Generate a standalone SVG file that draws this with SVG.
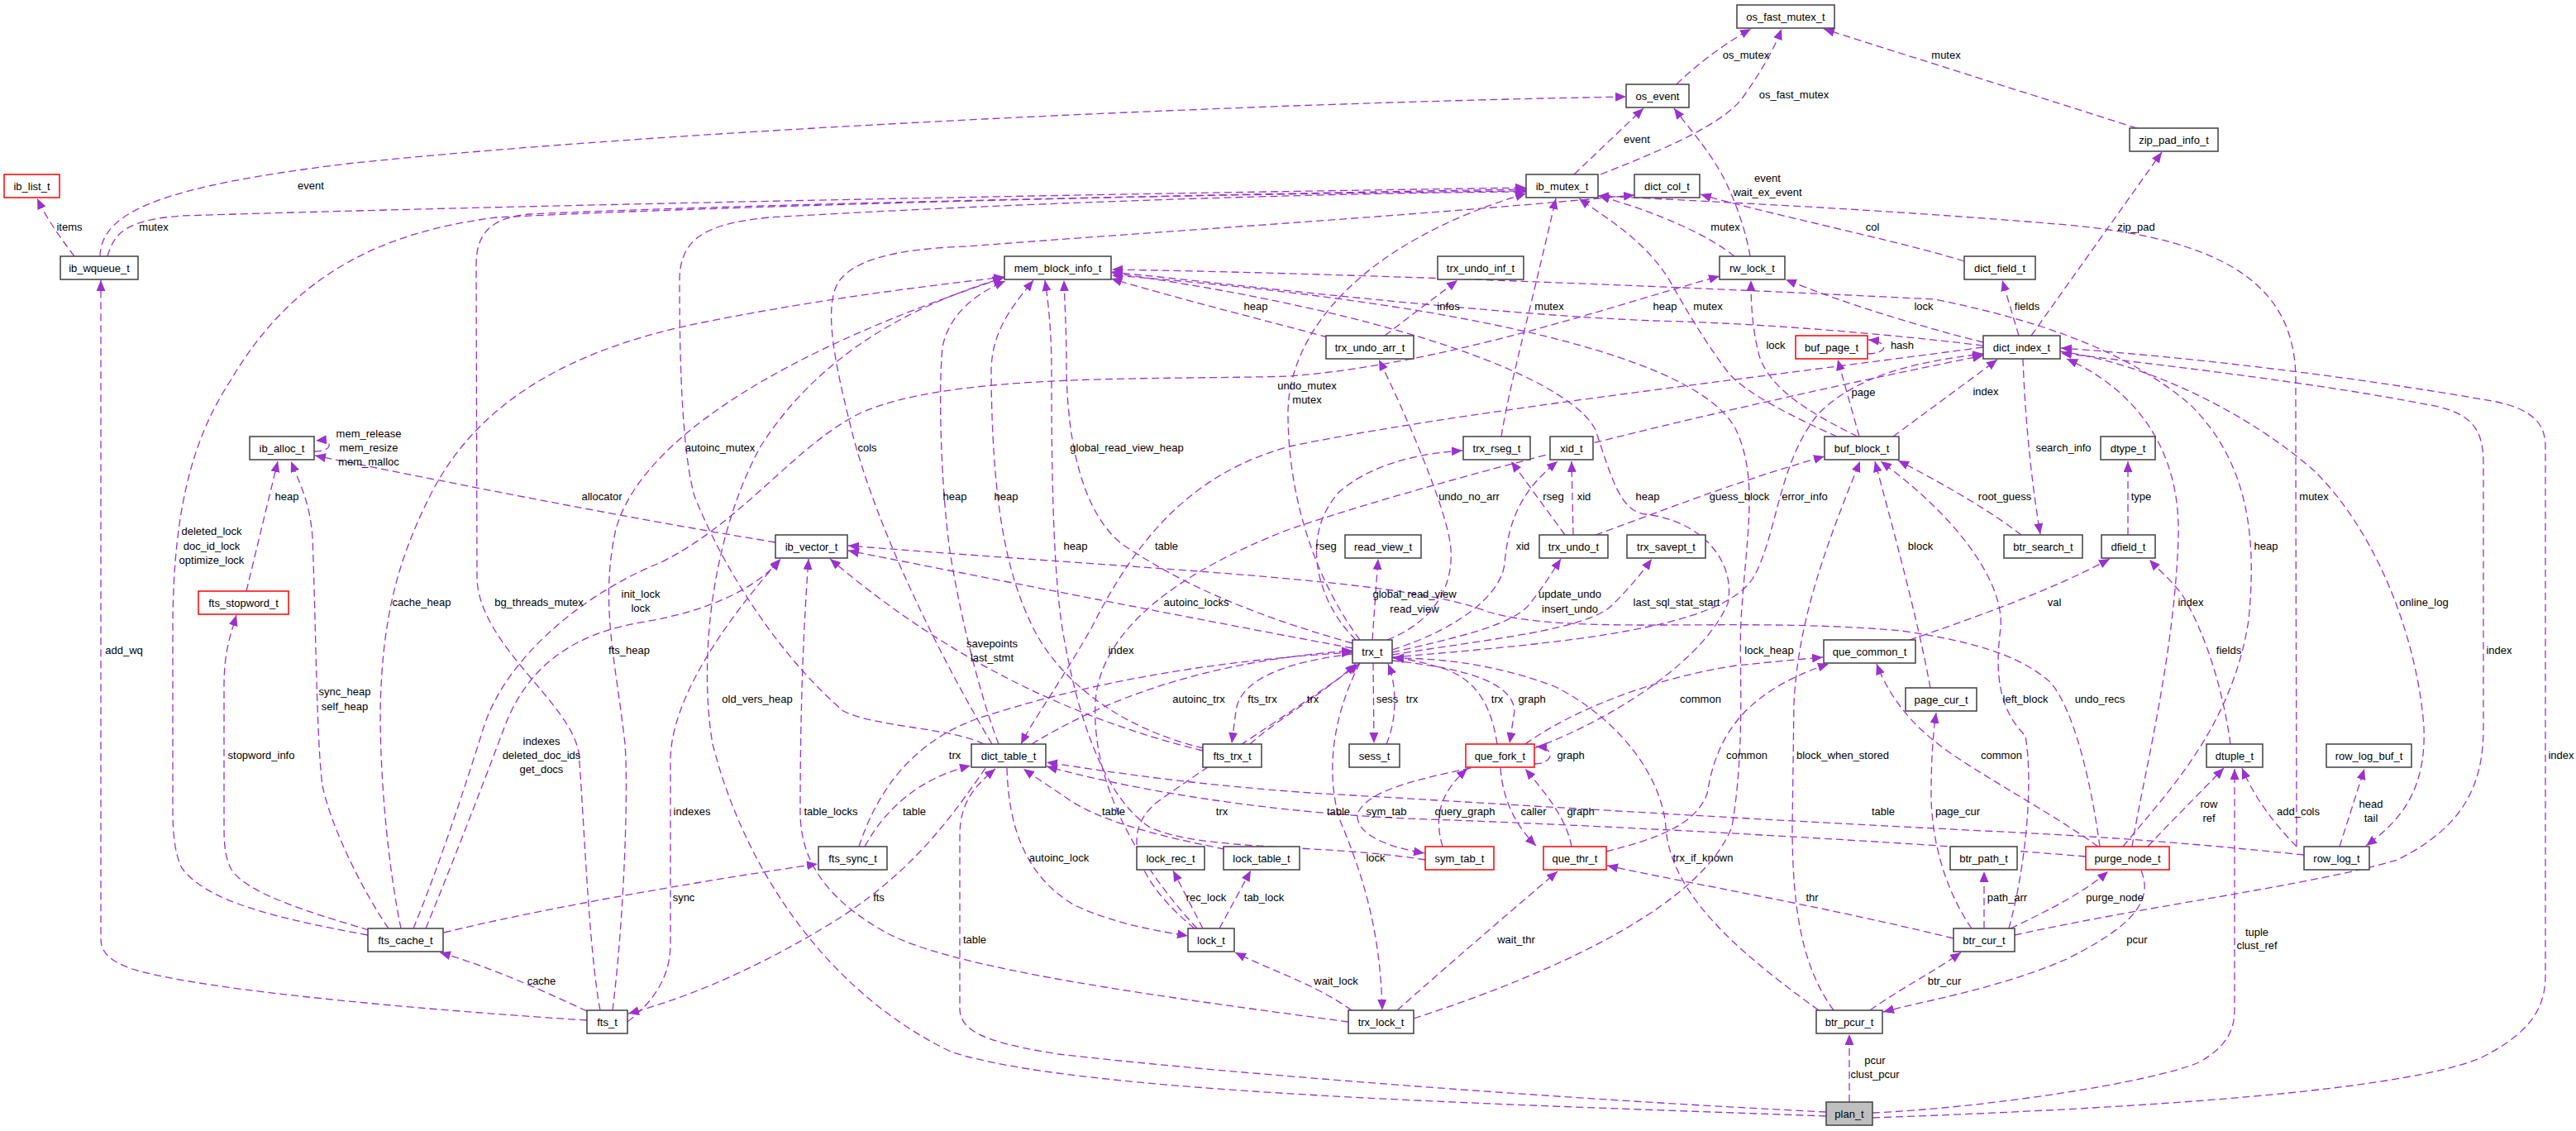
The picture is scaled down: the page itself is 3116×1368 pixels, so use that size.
<svg xmlns="http://www.w3.org/2000/svg" width="3116" height="1368" viewBox="0 0 3116 1368">
<defs>
<marker id="a" markerUnits="userSpaceOnUse" markerWidth="14" markerHeight="12" refX="13" refY="5.5" orient="auto"><path d="M0,0 L13,5.5 L0,11 z" fill="#9a32cd" stroke="none"/></marker>
</defs>
<style>
text{font-family:"Liberation Sans",Arial,Helvetica,sans-serif;font-size:13px;fill:#000}
.n rect{fill:#fff;stroke:#404040;stroke-width:1.5}
.n.r rect{stroke:#ff0000}
.n.g rect{fill:#bfbfbf}
.n text{text-anchor:middle}
#edges path{fill:none;stroke:#9a32cd;stroke-width:1.3;stroke-dasharray:9,5;marker-end:url(#a)}
#edges text{text-anchor:middle}
</style>
<rect width="3116" height="1368" fill="#fff"/>
<g id="edges">
<path d="M90,310 C78,294 58,268 45,240"/>
<path d="M121,310 C122,255 200,225 420,198 C800,158 1500,125 1967,117"/>
<path d="M130,310 C138,282 152,266 220,261 C700,246 1500,232 1846,227"/>
<path d="M710,1234 C550,1224 250,1200 160,1172 C130,1162 122,1150 122,1135 L122,339"/>
<path d="M2028,102 C2045,85 2080,56 2118,35"/>
<path d="M1936,211 C2010,182 2085,150 2108,118 C2128,90 2145,62 2155,35"/>
<path d="M1904,211 L1988,131"/>
<path d="M2585,155 L2206,35"/>
<path d="M2117,310 C2112,280 2100,245 2085,215 C2065,178 2045,158 2025,131"/>
<path d="M2098,310 C2070,287 2010,258 1934,237"/>
<path d="M2457,406 L2615,184"/>
<path d="M2376,316 C2300,292 2130,257 2057,235"/>
<path d="M2442,406 L2422,339"/>
<path d="M2399,414 C2330,397 2230,367 2160,338"/>
<path d="M2247,528 C2190,500 2140,470 2128,430 C2120,400 2118,370 2118,339"/>
<path d="M2222,528 C2170,505 2110,475 2090,450 C2060,410 2040,375 2020,340 C1990,290 1940,262 1910,240"/>
<path d="M2249,528 L2223,435"/>
<path d="M2259,428 C2282,428 2288,414 2260,411"/>
<path d="M2290,528 L2416,435"/>
<path d="M2445,647 C2410,620 2360,590 2296,557"/>
<path d="M2447,434 C2450,520 2460,600 2468,646"/>
<path d="M2574,647 L2574,558"/>
<path d="M1675,406 L1763,339"/>
<path d="M1606,408 C1540,390 1420,360 1344,337"/>
<path d="M1816,528 C1825,470 1850,380 1882,240"/>
<path d="M1893,647 L1828,558"/>
<path d="M1903,647 L1901,558"/>
<path d="M1930,647 C2000,622 2100,582 2207,552"/>
<path d="M1640,774 C1595,730 1570,650 1620,595 C1660,560 1720,548 1769,545"/>
<path d="M1684,786 C1760,762 1815,722 1820,682 C1825,622 1845,590 1884,558"/>
<path d="M1660,774 L1667,676"/>
<path d="M1684,789 C1760,772 1830,756 1850,731 C1865,712 1876,695 1888,676"/>
<path d="M1684,792 C1800,773 1920,762 1950,732 C1966,716 1981,700 1998,676"/>
<path d="M1678,774 C1740,750 1763,700 1753,650 C1743,600 1700,500 1668,435"/>
<path d="M1645,774 C1590,700 1558,600 1558,500 C1558,400 1650,292 1846,234"/>
<path d="M1636,778 C1500,740 1420,700 1360,660 C1305,620 1290,520 1290,440 C1290,400 1288,370 1287,339"/>
<path d="M1636,784 C1400,740 1200,700 1026,666"/>
<path d="M2540,1024 C2530,950 2510,860 2480,825 C2440,790 2380,775 2300,763 C2100,745 1900,770 1800,740 C1700,700 1400,690 1026,660"/>
<path d="M1684,795 C1900,777 2080,760 2120,700 C2150,650 2150,560 2200,500 C2250,450 2330,436 2399,428"/>
<path d="M1661,802 L1662,899"/>
<path d="M1677,900 C1690,870 1690,830 1679,803"/>
<path d="M1811,900 C1805,860 1790,825 1750,810 C1720,800 1700,797 1685,795"/>
<path d="M1684,799 C1760,807 1830,822 1832,860 L1826,899"/>
<path d="M1856,924 C1880,924 1882,904 1858,903"/>
<path d="M1445,1123 C1380,1070 1350,1010 1400,970 C1470,920 1580,850 1644,803"/>
<path d="M1636,791 C1560,800 1500,820 1495,860 L1490,899"/>
<path d="M1512,900 C1545,870 1600,840 1640,803"/>
<path d="M1248,900 C1330,850 1450,800 1636,787"/>
<path d="M1039,1024 C1060,960 1100,900 1180,870 C1300,830 1450,800 1636,789"/>
<path d="M1046,1024 C1070,980 1110,942 1174,926"/>
<path d="M537,1128 C650,1100 850,1065 989,1045"/>
<path d="M1192,929 C1150,990 1100,1060 1000,1120 C900,1180 820,1210 760,1226"/>
<path d="M710,1223 C660,1200 600,1172 532,1152"/>
<path d="M726,1222 C712,1150 706,980 700,910 C690,850 580,780 577,700 L576,320 C576,277 600,263 640,259 C900,247 1500,234 1846,231"/>
<path d="M759,1236 C790,1212 811,1182 811,1142 L811,920 C811,850 870,760 944,676"/>
<path d="M741,1222 C756,1100 760,950 756,900 C745,800 725,730 745,640 C770,550 900,440 1214,336"/>
<path d="M1631,1236 C1400,1205 1150,1172 1070,1127 C990,1082 968,1032 968,982 C968,850 972,760 978,676"/>
<path d="M1455,908 C1300,870 1150,800 1004,676"/>
<path d="M515,1123 C545,1050 580,960 610,880 C640,800 700,765 780,752 C850,740 910,716 944,677"/>
<path d="M500,1123 C530,1050 560,960 585,880 C610,800 700,720 800,680 C900,630 960,540 1040,500 C1150,450 1400,460 1560,455 C1750,440 1950,370 2080,334"/>
<path d="M445,1131 C330,1110 250,1090 220,1050 C210,1030 209,1000 209,980 L209,760 C209,600 240,520 279,460 C350,340 450,282 600,263 C900,248 1500,234 1846,229"/>
<path d="M446,1125 C380,1105 300,1082 280,1052 C272,1037 271,1020 271,1000 L271,830 C271,790 278,770 286,744"/>
<path d="M470,1123 C440,1080 400,1000 390,950 C383,900 382,750 378,650 C375,610 365,590 352,558"/>
<path d="M485,1123 C470,1050 460,950 460,860 C462,750 480,680 520,600 C580,480 700,420 850,390 C1000,360 1130,345 1215,335"/>
<path d="M298,715 L336,558"/>
<path d="M380,546 C404,546 404,531 382,533"/>
<path d="M938,656 C750,625 550,585 381,551"/>
<path d="M1190,900 C1150,880 1060,880 1020,860 C950,800 880,700 840,600 C826,550 822,450 822,340 C822,290 850,271 930,263 C1200,247 1600,233 1846,232"/>
<path d="M1200,900 C1140,800 1060,640 1030,520 C1010,440 995,370 1015,340 C1040,305 1120,300 1170,298 C1400,280 1700,262 1977,236"/>
<path d="M1208,900 C1185,840 1160,740 1148,660 C1138,580 1135,470 1140,420 C1148,380 1180,355 1216,340"/>
<path d="M1456,905 C1350,880 1280,820 1250,760 C1215,690 1200,600 1199,450 C1199,400 1225,370 1250,339"/>
<path d="M1724,1040 C1600,1020 1450,1030 1390,1000 C1330,960 1300,850 1285,760 C1272,680 1272,520 1272,450 C1272,400 1268,365 1264,339"/>
<path d="M2399,420 C2100,460 1750,500 1560,540 C1450,570 1380,640 1320,760 C1280,830 1250,870 1235,900"/>
<path d="M1448,1123 C1380,1050 1320,950 1325,850 C1330,760 1430,690 1560,640 C1800,560 2150,480 2399,430"/>
<path d="M1710,1232 C1900,1170 2060,1090 2095,1000 C2112,900 2103,800 2106,750 C2112,650 2128,580 2100,520 C2050,420 1700,360 1345,333"/>
<path d="M1856,905 C1950,870 2060,800 2090,730 C2100,680 2060,630 1990,622 C1960,618 1950,580 1930,520 C1900,460 1700,380 1345,330"/>
<path d="M2399,418 C2250,400 2100,390 2000,388 C1800,380 1500,345 1345,329"/>
<path d="M2568,1024 C2620,960 2700,880 2720,750 C2730,650 2720,560 2650,490 C2580,430 2480,390 2340,362 C2000,345 1600,330 1345,326"/>
<path d="M2579,1024 C2590,950 2630,800 2635,650 C2638,540 2580,470 2500,434"/>
<path d="M2437,1131 C2600,1095 2800,1070 2900,1040 C2980,1000 3004,950 3004,880 L3004,560 C3004,520 2990,502 2950,492 C2800,462 2600,440 2493,427"/>
<path d="M2265,1352 C2600,1340 2900,1320 3000,1280 C3060,1250 3079,1220 3079,1180 L3079,540 C3079,510 3060,495 3020,486 C2850,456 2650,432 2493,421"/>
<path d="M2492,425 C2600,440 2720,500 2800,570 C2880,650 2925,780 2932,880 C2935,960 2900,995 2862,1023"/>
<path d="M2778,1024 C2778,900 2777,700 2777,460 C2777,350 2700,290 2500,272 C2300,255 2100,245 1933,237"/>
<path d="M1845,900 C1900,860 2000,820 2100,805 C2150,800 2180,797 2205,795"/>
<path d="M1943,1030 C2000,1015 2050,1000 2065,960 C2075,900 2100,840 2212,803"/>
<path d="M2538,1024 C2470,975 2370,925 2330,888 C2300,862 2280,830 2270,803"/>
<path d="M2310,774 C2380,750 2480,715 2552,676"/>
<path d="M2698,900 C2690,840 2670,770 2640,720 C2625,700 2612,690 2600,677"/>
<path d="M2598,1024 C2620,1000 2660,960 2690,929"/>
<path d="M2778,1024 C2745,990 2725,960 2712,929"/>
<path d="M2265,1346 C2400,1340 2600,1310 2660,1285 C2695,1265 2703,1245 2703,1220 L2703,930"/>
<path d="M2830,1024 L2860,930"/>
<path d="M1815,929 C1818,970 1835,1000 1858,1023"/>
<path d="M1901,1024 C1895,990 1870,960 1845,930"/>
<path d="M2363,1135 C2200,1095 2050,1070 1944,1047"/>
<path d="M1690,1222 C1760,1160 1830,1100 1884,1054"/>
<path d="M1635,1222 C1590,1190 1540,1175 1494,1152"/>
<path d="M1218,929 C1220,1000 1240,1060 1300,1095 C1350,1118 1400,1126 1437,1132"/>
<path d="M1455,1123 L1419,1053"/>
<path d="M1475,1123 L1513,1053"/>
<path d="M1645,802 C1620,850 1600,920 1620,990 C1645,1050 1670,1120 1672,1222"/>
<path d="M2237,1333 L2237,1251"/>
<path d="M2590,1053 C2605,1090 2580,1120 2500,1160 C2420,1195 2330,1210 2278,1224"/>
<path d="M2262,1222 C2300,1195 2340,1175 2372,1152"/>
<path d="M2400,1123 L2400,1054"/>
<path d="M2432,1123 C2480,1100 2520,1080 2550,1054"/>
<path d="M2385,1123 C2355,1080 2336,1020 2336,960 C2336,920 2338,890 2342,862"/>
<path d="M2335,832 C2320,750 2290,640 2268,558"/>
<path d="M2430,1123 C2450,1050 2460,950 2450,890 C2420,860 2412,820 2420,760 C2425,700 2360,620 2275,558"/>
<path d="M2218,1222 C2180,1170 2168,1100 2168,1000 L2170,850 C2175,760 2200,680 2250,558"/>
<path d="M2200,1222 C2100,1150 2020,1080 2015,1000 C2010,940 1960,870 1880,830 C1800,800 1730,796 1685,796"/>
<path d="M1779,929 C1700,945 1650,960 1642,985 C1640,1010 1680,1025 1723,1032"/>
<path d="M1745,1024 C1735,990 1740,960 1775,930"/>
<path d="M2787,1034 C2650,1020 2550,1012 2400,1005 C2000,985 1700,965 1600,960 C1450,950 1350,935 1266,922"/>
<path d="M2523,1036 C2400,1025 2000,1000 1700,990 C1500,980 1350,950 1266,927"/>
<path d="M1481,1027 C1420,1015 1330,995 1290,965 C1260,945 1245,935 1238,930"/>
<path d="M2209,1345 C1900,1330 1500,1300 1280,1275 C1200,1262 1161,1250 1161,1220 L1161,1010 C1161,970 1180,950 1204,930"/>
<path d="M2209,1350 C1800,1335 1300,1322 1150,1272 C1000,1200 900,1050 862,900 C845,800 860,650 920,540 C990,430 1100,370 1214,336"/>
<text x="376" y="229">event</text>
<text x="84" y="279">items</text>
<text x="186" y="279">mutex</text>
<text x="1519" y="375">heap</text>
<text x="2112" y="71">os_mutex</text>
<text x="2170" y="119">os_fast_mutex</text>
<text x="1980" y="173">event</text>
<text x="2138" y="220">event</text>
<text x="2138" y="237">wait_ex_event</text>
<text x="2087" y="279">mutex</text>
<text x="2265" y="279">col</text>
<text x="1752" y="375">infos</text>
<text x="1874" y="375">mutex</text>
<text x="2014" y="375">heap</text>
<text x="2066" y="375">mutex</text>
<text x="2327" y="375">lock</text>
<text x="2148" y="422">lock</text>
<text x="2301" y="422">hash</text>
<text x="2354" y="71">mutex</text>
<text x="2584" y="279">zip_pad</text>
<text x="2452" y="375">fields</text>
<text x="446" y="529">mem_release</text>
<text x="446" y="546">mem_resize</text>
<text x="446" y="563">mem_malloc</text>
<text x="347" y="605">heap</text>
<text x="728" y="605">allocator</text>
<text x="256" y="647">deleted_lock</text>
<text x="256" y="665">doc_id_lock</text>
<text x="256" y="682">optimize_lock</text>
<text x="510" y="733">cache_heap</text>
<text x="652" y="733">bg_threads_mutex</text>
<text x="775" y="723">init_lock</text>
<text x="775" y="740">lock</text>
<text x="150" y="791">add_wq</text>
<text x="761" y="791">fts_heap</text>
<text x="417" y="841">sync_heap</text>
<text x="417" y="859">self_heap</text>
<text x="655" y="901">indexes</text>
<text x="655" y="918">deleted_doc_ids</text>
<text x="655" y="935">get_docs</text>
<text x="316" y="918">stopword_info</text>
<text x="655" y="1191">cache</text>
<text x="871" y="546">autoinc_mutex</text>
<text x="1049" y="546">cols</text>
<text x="1363" y="546">global_read_view_heap</text>
<text x="1581" y="471">undo_mutex</text>
<text x="1581" y="488">mutex</text>
<text x="1155" y="605">heap</text>
<text x="1217" y="605">heap</text>
<text x="1301" y="665">heap</text>
<text x="1411" y="665">table</text>
<text x="1447" y="733">autoinc_locks</text>
<text x="1200" y="783">savepoints</text>
<text x="1200" y="800">last_stmt</text>
<text x="1356" y="791">index</text>
<text x="916" y="850">old_vers_heap</text>
<text x="1450" y="850">autoinc_trx</text>
<text x="1527" y="850">fts_trx</text>
<text x="2254" y="479">page</text>
<text x="1777" y="605">undo_no_arr</text>
<text x="1879" y="605">rseg</text>
<text x="1916" y="605">xid</text>
<text x="1993" y="605">heap</text>
<text x="2104" y="605">guess_block</text>
<text x="2183" y="605">error_info</text>
<text x="1604" y="665">rseg</text>
<text x="1842" y="665">xid</text>
<text x="2323" y="665">block</text>
<text x="1711" y="723">global_read_view</text>
<text x="1711" y="741">read_view</text>
<text x="1899" y="723">update_undo</text>
<text x="1899" y="741">insert_undo</text>
<text x="2028" y="733">last_sql_stat_start</text>
<text x="2140" y="791">lock_heap</text>
<text x="1588" y="850">trx</text>
<text x="1678" y="850">sess</text>
<text x="1708" y="850">trx</text>
<text x="1811" y="850">trx</text>
<text x="1853" y="850">graph</text>
<text x="2057" y="850">common</text>
<text x="2402" y="478">index</text>
<text x="2496" y="546">search_info</text>
<text x="2425" y="605">root_guess</text>
<text x="2590" y="605">type</text>
<text x="2799" y="605">mutex</text>
<text x="2741" y="665">heap</text>
<text x="2485" y="733">val</text>
<text x="2650" y="733">index</text>
<text x="2932" y="733">online_log</text>
<text x="2696" y="791">fields</text>
<text x="3023" y="791">index</text>
<text x="2450" y="850">left_block</text>
<text x="2540" y="850">undo_recs</text>
<text x="1155" y="918">trx</text>
<text x="837" y="986">indexes</text>
<text x="1005" y="986">table_locks</text>
<text x="1106" y="986">table</text>
<text x="1347" y="986">table</text>
<text x="1478" y="986">trx</text>
<text x="1281" y="1042">autoinc_lock</text>
<text x="827" y="1090">sync</text>
<text x="1063" y="1090">fts</text>
<text x="1459" y="1090">rec_lock</text>
<text x="1529" y="1090">tab_lock</text>
<text x="1179" y="1141">table</text>
<text x="1900" y="918">graph</text>
<text x="2113" y="918">common</text>
<text x="2229" y="918">block_when_stored</text>
<text x="1619" y="986">table</text>
<text x="1677" y="986">sym_tab</text>
<text x="1772" y="986">query_graph</text>
<text x="1855" y="986">caller</text>
<text x="1912" y="986">graph</text>
<text x="2278" y="986">table</text>
<text x="1664" y="1042">lock</text>
<text x="2060" y="1042">trx_if_known</text>
<text x="2192" y="1090">thr</text>
<text x="1834" y="1141">wait_thr</text>
<text x="1616" y="1191">wait_lock</text>
<text x="2352" y="1191">btr_cur</text>
<text x="2268" y="1287">pcur</text>
<text x="2268" y="1304">clust_pcur</text>
<text x="2421" y="918">common</text>
<text x="2368" y="986">page_cur</text>
<text x="2672" y="977">row</text>
<text x="2672" y="994">ref</text>
<text x="2780" y="986">add_cols</text>
<text x="2868" y="977">head</text>
<text x="2868" y="994">tail</text>
<text x="2428" y="1090">path_arr</text>
<text x="2558" y="1090">purge_node</text>
<text x="2585" y="1141">pcur</text>
<text x="2730" y="1132">tuple</text>
<text x="2730" y="1148">clust_ref</text>
<text x="3098" y="918">index</text>
</g>
<g id="n_os_fast_mutex_t" class="n"><rect x="2101" y="6" width="118" height="28"/><text x="2160" y="24.5">os_fast_mutex_t</text></g>
<g id="n_os_event" class="n"><rect x="1967" y="102" width="76" height="28"/><text x="2005" y="120.5">os_event</text></g>
<g id="n_zip_pad_info_t" class="n"><rect x="2576" y="155" width="107" height="28"/><text x="2629.5" y="173.5">zip_pad_info_t</text></g>
<g id="n_ib_list_t" class="n r"><rect x="5" y="211" width="67" height="28"/><text x="38.5" y="229.5">ib_list_t</text></g>
<g id="n_ib_mutex_t" class="n"><rect x="1846" y="211" width="87" height="28"/><text x="1889.5" y="229.5">ib_mutex_t</text></g>
<g id="n_dict_col_t" class="n"><rect x="1977" y="211" width="79" height="28"/><text x="2016.5" y="229.5">dict_col_t</text></g>
<g id="n_ib_wqueue_t" class="n"><rect x="73" y="310" width="94" height="28"/><text x="120" y="328.5">ib_wqueue_t</text></g>
<g id="n_mem_block_info_t" class="n"><rect x="1215" y="310" width="129" height="28"/><text x="1279.5" y="328.5">mem_block_info_t</text></g>
<g id="n_trx_undo_inf_t" class="n"><rect x="1739" y="310" width="104" height="28"/><text x="1791" y="328.5">trx_undo_inf_t</text></g>
<g id="n_rw_lock_t" class="n"><rect x="2080" y="310" width="79" height="28"/><text x="2119.5" y="328.5">rw_lock_t</text></g>
<g id="n_dict_field_t" class="n"><rect x="2376" y="310" width="86" height="28"/><text x="2419" y="328.5">dict_field_t</text></g>
<g id="n_trx_undo_arr_t" class="n"><rect x="1604" y="406" width="106" height="28"/><text x="1657" y="424.5">trx_undo_arr_t</text></g>
<g id="n_buf_page_t" class="n r"><rect x="2172" y="406" width="87" height="28"/><text x="2215.5" y="424.5">buf_page_t</text></g>
<g id="n_dict_index_t" class="n"><rect x="2399" y="406" width="93" height="28"/><text x="2445.5" y="424.5">dict_index_t</text></g>
<g id="n_ib_alloc_t" class="n"><rect x="302" y="528" width="78" height="28"/><text x="341" y="546.5">ib_alloc_t</text></g>
<g id="n_trx_rseg_t" class="n"><rect x="1770" y="528" width="81" height="28"/><text x="1810.5" y="546.5">trx_rseg_t</text></g>
<g id="n_xid_t" class="n"><rect x="1875" y="528" width="52" height="28"/><text x="1901" y="546.5">xid_t</text></g>
<g id="n_buf_block_t" class="n"><rect x="2207" y="528" width="90" height="28"/><text x="2252" y="546.5">buf_block_t</text></g>
<g id="n_dtype_t" class="n"><rect x="2541" y="528" width="66" height="28"/><text x="2574" y="546.5">dtype_t</text></g>
<g id="n_ib_vector_t" class="n"><rect x="938" y="647" width="87" height="28"/><text x="981.5" y="665.5">ib_vector_t</text></g>
<g id="n_read_view_t" class="n"><rect x="1627" y="647" width="92" height="28"/><text x="1673" y="665.5">read_view_t</text></g>
<g id="n_trx_undo_t" class="n"><rect x="1862" y="647" width="83" height="28"/><text x="1903.5" y="665.5">trx_undo_t</text></g>
<g id="n_trx_savept_t" class="n"><rect x="1968" y="647" width="95" height="28"/><text x="2015.5" y="665.5">trx_savept_t</text></g>
<g id="n_btr_search_t" class="n"><rect x="2424" y="647" width="95" height="28"/><text x="2471.5" y="665.5">btr_search_t</text></g>
<g id="n_dfield_t" class="n"><rect x="2542" y="647" width="65" height="28"/><text x="2574.5" y="665.5">dfield_t</text></g>
<g id="n_fts_stopword_t" class="n r"><rect x="240" y="715" width="109" height="28"/><text x="294.5" y="733.5">fts_stopword_t</text></g>
<g id="n_trx_t" class="n"><rect x="1636" y="774" width="48" height="28"/><text x="1660" y="792.5">trx_t</text></g>
<g id="n_que_common_t" class="n"><rect x="2206" y="774" width="111" height="28"/><text x="2261.5" y="792.5">que_common_t</text></g>
<g id="n_page_cur_t" class="n"><rect x="2305" y="832" width="86" height="28"/><text x="2348" y="850.5">page_cur_t</text></g>
<g id="n_dict_table_t" class="n"><rect x="1175" y="900" width="90" height="28"/><text x="1220" y="918.5">dict_table_t</text></g>
<g id="n_fts_trx_t" class="n"><rect x="1455" y="900" width="71" height="28"/><text x="1490.5" y="918.5">fts_trx_t</text></g>
<g id="n_sess_t" class="n"><rect x="1632" y="900" width="61" height="28"/><text x="1662.5" y="918.5">sess_t</text></g>
<g id="n_que_fork_t" class="n r"><rect x="1773" y="900" width="83" height="28"/><text x="1814.5" y="918.5">que_fork_t</text></g>
<g id="n_dtuple_t" class="n"><rect x="2669" y="900" width="68" height="28"/><text x="2703" y="918.5">dtuple_t</text></g>
<g id="n_row_log_buf_t" class="n"><rect x="2814" y="900" width="103" height="28"/><text x="2865.5" y="918.5">row_log_buf_t</text></g>
<g id="n_fts_sync_t" class="n"><rect x="990" y="1024" width="83" height="28"/><text x="1031.5" y="1042.5">fts_sync_t</text></g>
<g id="n_lock_rec_t" class="n"><rect x="1375" y="1024" width="82" height="28"/><text x="1416" y="1042.5">lock_rec_t</text></g>
<g id="n_lock_table_t" class="n"><rect x="1480" y="1024" width="92" height="28"/><text x="1526" y="1042.5">lock_table_t</text></g>
<g id="n_sym_tab_t" class="n r"><rect x="1724" y="1024" width="83" height="28"/><text x="1765.5" y="1042.5">sym_tab_t</text></g>
<g id="n_que_thr_t" class="n r"><rect x="1867" y="1024" width="76" height="28"/><text x="1905" y="1042.5">que_thr_t</text></g>
<g id="n_btr_path_t" class="n"><rect x="2359" y="1024" width="81" height="28"/><text x="2399.5" y="1042.5">btr_path_t</text></g>
<g id="n_purge_node_t" class="n r"><rect x="2523" y="1024" width="101" height="28"/><text x="2573.5" y="1042.5">purge_node_t</text></g>
<g id="n_row_log_t" class="n"><rect x="2787" y="1024" width="79" height="28"/><text x="2826.5" y="1042.5">row_log_t</text></g>
<g id="n_fts_cache_t" class="n"><rect x="445" y="1123" width="91" height="28"/><text x="490.5" y="1141.5">fts_cache_t</text></g>
<g id="n_lock_t" class="n"><rect x="1437" y="1123" width="56" height="28"/><text x="1465" y="1141.5">lock_t</text></g>
<g id="n_btr_cur_t" class="n"><rect x="2363" y="1123" width="74" height="28"/><text x="2400" y="1141.5">btr_cur_t</text></g>
<g id="n_fts_t" class="n"><rect x="710" y="1222" width="49" height="28"/><text x="734.5" y="1240.5">fts_t</text></g>
<g id="n_trx_lock_t" class="n"><rect x="1631" y="1222" width="79" height="28"/><text x="1670.5" y="1240.5">trx_lock_t</text></g>
<g id="n_btr_pcur_t" class="n"><rect x="2197" y="1222" width="80" height="28"/><text x="2237" y="1240.5">btr_pcur_t</text></g>
<g id="n_plan_t" class="n g"><rect x="2209" y="1333" width="56" height="28"/><text x="2237" y="1351.5">plan_t</text></g>
</svg>
